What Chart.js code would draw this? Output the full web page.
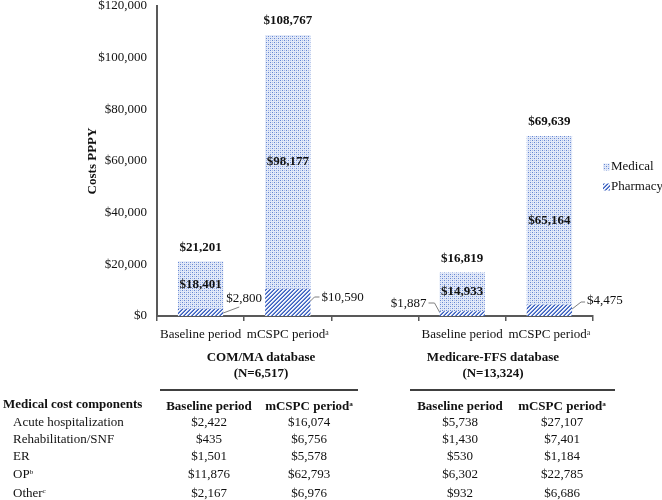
<!DOCTYPE html>
<html>
<head>
<meta charset="utf-8">
<script src="https://cdn.jsdelivr.net/npm/chart.js@4/dist/chart.umd.min.js"></script>
<style>
  html, body { margin:0; padding:0; background:#fff; }
  #wrap { position:relative; width:662px; height:500px; overflow:hidden; }
  #c { position:absolute; left:0; top:0; }
  .t { position:absolute; white-space:nowrap; font-family:'Liberation Serif','Times New Roman',serif; font-size:13px; line-height:1; color:#111; }
  .c { transform:translate(-50%,-50%); }
  .l { transform:translate(0,-50%); }
  .b { font-weight:bold; }
  sup { font-size:0.55em; vertical-align:0.55em; line-height:0; }
  .rule { position:absolute; height:2px; background:#404040; }
</style>
</head>
<body>
<div id="wrap">
  <canvas id="c" width="662" height="500"></canvas>
</div>
<script>
// ---------- data ----------
const categories = ['Baseline period', 'mCSPC period\u1D43', '', 'Baseline period', 'mCSPC period\u1D43'];
const pharmacy = [2800, 10590, null, 1887, 4475];
const medical = [18401, 98177, null, 14933, 65164];
const totals = [21201, 108767, null, 16819, 69639];
const seriesNames = ['Pharmacy', 'Medical'];
const yMax = 120000;
const yStep = 20000;

const groups = ['COM/MA database', 'Medicare-FFS database'];
const groupN = ['(N=6,517)', '(N=13,324)'];

const tableTitle = 'Medical cost components';
const tableColumns = ['Baseline period', 'mCSPC period'];
const tableColumnSup = ['', 'a'];
const components = ['Acute hospitalization', 'Rehabilitation/SNF', 'ER', 'OP', 'Other'];
const componentSup = ['', '', '', 'b', 'c'];
const comBaseline = [2422, 435, 1501, 11876, 2167];
const comMcspc = [16074, 6756, 5578, 62793, 6976];
const ffsBaseline = [5738, 1430, 530, 6302, 932];
const ffsMcspc = [27107, 7401, 1184, 22785, 6686];

// ---------- helpers ----------
const FONT = "'Liberation Serif','Times New Roman',serif";
const fmt = v => '$' + Number(v).toLocaleString('en-US');

function makeDots() {
  const c = document.createElement('canvas'); c.width = 4; c.height = 4;
  const x = c.getContext('2d');
  x.fillStyle = '#e2e9f8'; x.fillRect(0, 0, 4, 4);
  x.fillStyle = '#6485d2';
  [[0,0],[2,2]].forEach(p => x.fillRect(p[0], p[1], 1, 1));
  x.fillStyle = '#a9bce8';
  [[2,0],[0,2]].forEach(p => x.fillRect(p[0], p[1], 1, 1));
  return x.createPattern(c, 'repeat');
}
function makeHatch() {
  const c = document.createElement('canvas'); c.width = 4; c.height = 4;
  const x = c.getContext('2d');
  x.fillStyle = '#eef2fb'; x.fillRect(0, 0, 4, 4);
  for (let i = 0; i < 4; i++) {
    for (let j = 0; j < 4; j++) {
      const s = (i + j) % 4;
      if (s === 3) { x.fillStyle = '#3a5fbf'; x.fillRect(i, j, 1, 1); }
      else if (s === 2) { x.fillStyle = '#6d8ad2'; x.fillRect(i, j, 1, 1); }
    }
  }
  return x.createPattern(c, 'repeat');
}
const ctx0 = document.getElementById('c').getContext('2d');
const dotsPat = makeDots();
const hatchPat = makeHatch();

// callout geometry (offsets relative to bar edge and zero line)
const callouts = [
  { side: 1, line: [[0, -3], [16, -9]], text: [3, -17] },
  { side: 1, line: [[0, -15], [4, -19], [9, -19]], text: [11, -18] },
  null,
  { side: -1, line: [[-11, -13], [-5, -13], [0, -4]], text: [-13, -12] },
  { side: 1, line: [[0, -7], [9, -14], [13, -14]], text: [15, -15] }
];

const labelPlugin = {
  id: 'barLabels',
  afterDatasetsDraw(chart) {
    const ctx = chart.ctx;
    const pm = chart.getDatasetMeta(0).data;
    const mm = chart.getDatasetMeta(1).data;
    const y0 = chart.scales.y.getPixelForValue(0);
    ctx.save();
    ctx.fillStyle = '#111';
    ctx.textBaseline = 'middle';
    for (let i = 0; i < categories.length; i++) {
      if (medical[i] == null) continue;
      const m = mm[i], p = pm[i];
      ctx.font = 'bold 13px ' + FONT;
      ctx.textAlign = 'center';
      ctx.fillText(fmt(totals[i]), m.x, m.y - 14);
      ctx.fillText(fmt(medical[i]), m.x, (m.y + m.base) / 2);
      const co = callouts[i];
      if (co) {
        const edge = co.side > 0 ? p.x + p.width / 2 : p.x - p.width / 2;
        ctx.strokeStyle = '#7f7f7f';
        ctx.lineWidth = 1;
        ctx.beginPath();
        co.line.forEach((pt, k) => {
          const X = edge + pt[0], Y = y0 + pt[1];
          if (k === 0) ctx.moveTo(X, Y); else ctx.lineTo(X, Y);
        });
        ctx.stroke();
        ctx.font = '13px ' + FONT;
        ctx.textAlign = co.side > 0 ? 'left' : 'right';
        ctx.fillText(fmt(pharmacy[i]), edge + co.text[0], y0 + co.text[1]);
      }
    }
    ctx.restore();
  }
};

const legendPlugin = {
  id: 'customLegend',
  afterDraw(chart) {
    const ctx = chart.ctx;
    const ds = chart.data.datasets.slice().reverse();
    const x = chart.chartArea.right + 10;
    let y = 167;
    ctx.save();
    ctx.font = '13px ' + FONT;
    ctx.textBaseline = 'middle';
    ctx.textAlign = 'left';
    ds.forEach(d => {
      ctx.fillStyle = d.backgroundColor;
      ctx.fillRect(x, y - 3.5, 7, 7);
      ctx.fillStyle = '#111';
      ctx.fillText(d.label, x + 8, y);
      y += 20;
    });
    ctx.restore();
  }
};

new Chart(ctx0, {
  type: 'bar',
  data: {
    labels: categories,
    datasets: [
      { label: seriesNames[0], data: pharmacy, backgroundColor: hatchPat, barPercentage: 0.52, categoryPercentage: 1 },
      { label: seriesNames[1], data: medical, backgroundColor: dotsPat, barPercentage: 0.52, categoryPercentage: 1 }
    ]
  },
  options: {
    responsive: false,
    animation: false,
    layout: { padding: { left: 85, right: 69, top: 6, bottom: 154 } },
    plugins: { legend: { display: false }, tooltip: { enabled: false } },
    scales: {
      x: {
        stacked: true,
        offset: true,
        grid: { display: true, drawOnChartArea: false, drawTicks: true, tickLength: 5, color: '#595959', lineWidth: 1.5, offset: true },
        border: { display: true, color: '#595959', width: 2 },
        ticks: { font: { family: FONT, size: 13 }, color: '#111', padding: 6, maxRotation: 0, autoSkip: false },
        afterFit(s) { s.height = 30; s.paddingLeft = 0; s.paddingRight = 0; }
      },
      y: {
        stacked: true,
        min: 0, max: yMax,
        ticks: { stepSize: yStep, callback: v => fmt(v), font: { family: FONT, size: 13 }, color: '#111', padding: 10 },
        grid: { display: false, drawTicks: false },
        border: { display: true, color: '#595959', width: 2 },
        title: { display: true, text: 'Costs PPPY', font: { family: FONT, size: 13, weight: 'bold' }, color: '#111', padding: { top: 0, bottom: 4 } },
        afterFit(s) { s.width = 72; s.paddingTop = 0; s.paddingBottom = 0; }
      }
    }
  },
  plugins: [labelPlugin, legendPlugin]
});

// ---------- group labels + table (HTML text) ----------
const wrap = document.getElementById('wrap');
function addText(html, x, y, cls) {
  const d = document.createElement('div');
  d.className = 't ' + cls;
  d.style.left = x + 'px';
  d.style.top = y + 'px';
  d.innerHTML = html;
  wrap.appendChild(d);
}
function addRule(x1, x2, y) {
  const d = document.createElement('div');
  d.className = 'rule';
  d.style.left = x1 + 'px'; d.style.width = (x2 - x1) + 'px'; d.style.top = (y - 1) + 'px';
  wrap.appendChild(d);
}
const groupX = [261, 493];
groups.forEach((g, i) => {
  addText(g, groupX[i], 356, 'c b');
  addText(groupN[i], groupX[i], 372, 'c b');
});
addRule(160, 358, 390);
addRule(410, 615, 390);

const colX = [209, 309, 460, 562];
const headerY = 405;
const rowY = [421, 438, 455, 473, 492];
addText(tableTitle, 3, 403, 'l b');
[0, 1, 0, 1].forEach((k, j) => {
  addText(tableColumns[k] + (tableColumnSup[k] ? '<sup>' + tableColumnSup[k] + '</sup>' : ''), colX[j], headerY, 'c b');
});
const cols = [comBaseline, comMcspc, ffsBaseline, ffsMcspc];
components.forEach((name, r) => {
  addText(name + (componentSup[r] ? '<sup>' + componentSup[r] + '</sup>' : ''), 13, rowY[r], 'l');
  cols.forEach((arr, j) => addText(fmt(arr[r]), colX[j], rowY[r], 'c'));
});
</script>
</body>
</html>
